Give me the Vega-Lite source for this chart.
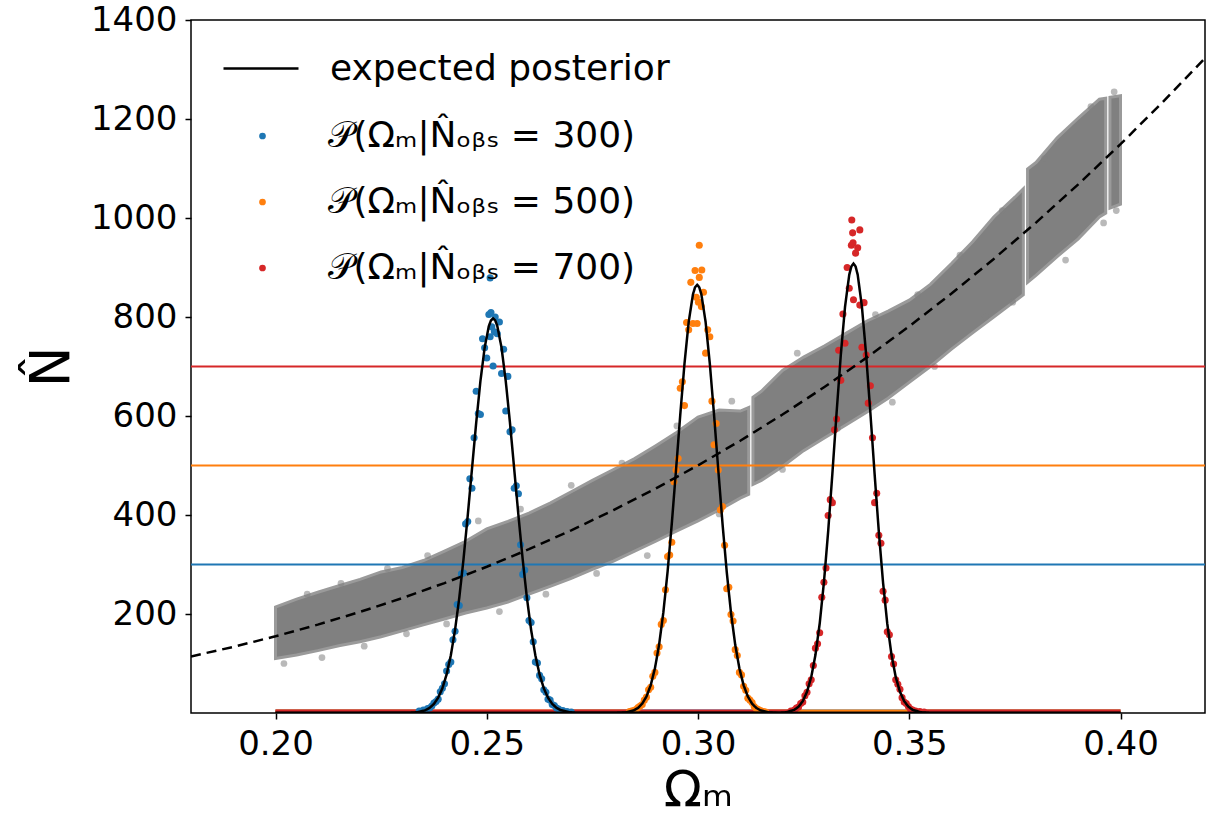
{
  "$schema": "https://vega.github.io/schema/vega-lite/v6.json",
  "width": 1014,
  "height": 693,
  "autosize": {"type": "none"},
  "padding": {"left": 191, "top": 20, "right": 1, "bottom": 110},
  "background": "white",
  "config": {
    "view": {"stroke": "black", "strokeWidth": 1.5},
    "font": "DejaVu Sans",
    "axis": {"grid": false, "domain": false, "tickColor": "black", "tickWidth": 1.5, "tickSize": 6, "labelColor": "black", "labelFont": "DejaVu Sans", "labelFontSize": 34, "titleFont": "DejaVu Sans", "titleFontWeight": "normal", "titleColor": "black"},
    "legend": {"labelFont": "DejaVu Sans", "labelFontSize": 36, "labelColor": "black", "labelLimit": 0, "title": null}
  },
  "datasets": {
    "band": [
      {"seg": "a", "x": 0.200, "N": 110, "N2": 214},
      {"seg": "a", "x": 0.205, "N": 117, "N2": 230},
      {"seg": "a", "x": 0.210, "N": 126, "N2": 244},
      {"seg": "a", "x": 0.215, "N": 136, "N2": 257},
      {"seg": "a", "x": 0.220, "N": 144, "N2": 270},
      {"seg": "a", "x": 0.225, "N": 154, "N2": 285},
      {"seg": "a", "x": 0.230, "N": 166, "N2": 294},
      {"seg": "a", "x": 0.235, "N": 178, "N2": 308},
      {"seg": "a", "x": 0.240, "N": 190, "N2": 327},
      {"seg": "a", "x": 0.245, "N": 202, "N2": 347},
      {"seg": "a", "x": 0.250, "N": 212, "N2": 372},
      {"seg": "a", "x": 0.255, "N": 224, "N2": 387},
      {"seg": "a", "x": 0.260, "N": 240, "N2": 404},
      {"seg": "a", "x": 0.265, "N": 256, "N2": 424},
      {"seg": "a", "x": 0.270, "N": 272, "N2": 447},
      {"seg": "a", "x": 0.275, "N": 290, "N2": 470},
      {"seg": "a", "x": 0.280, "N": 307, "N2": 492},
      {"seg": "a", "x": 0.285, "N": 327, "N2": 514},
      {"seg": "a", "x": 0.290, "N": 347, "N2": 540},
      {"seg": "a", "x": 0.295, "N": 368, "N2": 567},
      {"seg": "a", "x": 0.300, "N": 388, "N2": 598},
      {"seg": "a", "x": 0.305, "N": 410, "N2": 612},
      {"seg": "a", "x": 0.310, "N": 434, "N2": 610},
      {"seg": "a", "x": 0.312, "N": 442, "N2": 617},
      {"seg": "b", "x": 0.313, "N": 462, "N2": 638},
      {"seg": "b", "x": 0.315, "N": 470, "N2": 650},
      {"seg": "b", "x": 0.320, "N": 498, "N2": 692},
      {"seg": "b", "x": 0.325, "N": 530, "N2": 719},
      {"seg": "b", "x": 0.330, "N": 556, "N2": 742},
      {"seg": "b", "x": 0.335, "N": 582, "N2": 767},
      {"seg": "b", "x": 0.340, "N": 608, "N2": 792},
      {"seg": "b", "x": 0.345, "N": 636, "N2": 812},
      {"seg": "b", "x": 0.350, "N": 668, "N2": 834},
      {"seg": "b", "x": 0.355, "N": 700, "N2": 866},
      {"seg": "b", "x": 0.360, "N": 735, "N2": 908},
      {"seg": "b", "x": 0.365, "N": 768, "N2": 952},
      {"seg": "b", "x": 0.370, "N": 800, "N2": 1002},
      {"seg": "b", "x": 0.375, "N": 832, "N2": 1042},
      {"seg": "b", "x": 0.377, "N": 845, "N2": 1059},
      {"seg": "c", "x": 0.378, "N": 870, "N2": 1099},
      {"seg": "c", "x": 0.380, "N": 884, "N2": 1112},
      {"seg": "c", "x": 0.385, "N": 922, "N2": 1162},
      {"seg": "c", "x": 0.390, "N": 958, "N2": 1202},
      {"seg": "c", "x": 0.395, "N": 1002, "N2": 1240},
      {"seg": "c", "x": 0.3965, "N": 1010, "N2": 1242},
      {"seg": "d", "x": 0.3975, "N": 1020, "N2": 1244},
      {"seg": "d", "x": 0.400, "N": 1028, "N2": 1247}
    ],
    "outliers": [
      {"x": 0.2020, "N": 100}, {"x": 0.2075, "N": 240}, {"x": 0.2110, "N": 112}, {"x": 0.2155, "N": 262},
      {"x": 0.2210, "N": 135}, {"x": 0.2265, "N": 292}, {"x": 0.2310, "N": 160}, {"x": 0.2360, "N": 318},
      {"x": 0.2405, "N": 180}, {"x": 0.2480, "N": 388}, {"x": 0.2530, "N": 205}, {"x": 0.2580, "N": 412},
      {"x": 0.2640, "N": 240}, {"x": 0.2700, "N": 460}, {"x": 0.2760, "N": 282}, {"x": 0.2820, "N": 505},
      {"x": 0.2880, "N": 318}, {"x": 0.2950, "N": 580}, {"x": 0.3050, "N": 402}, {"x": 0.3080, "N": 630},
      {"x": 0.3200, "N": 492}, {"x": 0.3235, "N": 727}, {"x": 0.3330, "N": 575}, {"x": 0.3420, "N": 805},
      {"x": 0.3460, "N": 628}, {"x": 0.3520, "N": 845}, {"x": 0.3560, "N": 700}, {"x": 0.3620, "N": 925},
      {"x": 0.3680, "N": 800}, {"x": 0.3720, "N": 1015}, {"x": 0.3745, "N": 830}, {"x": 0.3820, "N": 1120},
      {"x": 0.3870, "N": 915}, {"x": 0.3930, "N": 1225}, {"x": 0.3960, "N": 990}, {"x": 0.3990, "N": 1015},
      {"x": 0.3985, "N": 1255}
    ],
    "hlines": [
      {"g": "h300", "x": 0.18, "N": 300}, {"g": "h300", "x": 0.42, "N": 300},
      {"g": "h500", "x": 0.18, "N": 500}, {"g": "h500", "x": 0.42, "N": 500},
      {"g": "h700", "x": 0.18, "N": 700}, {"g": "h700", "x": 0.42, "N": 700}
    ],
    "tails": [
      {"g": "h300", "seg": "l", "x": 0.200, "N": 0}, {"g": "h300", "seg": "l", "x": 0.236, "N": 0},
      {"g": "h300", "seg": "r", "x": 0.267, "N": 0}, {"g": "h300", "seg": "r", "x": 0.400, "N": 0},
      {"g": "h500", "seg": "l", "x": 0.200, "N": 0}, {"g": "h500", "seg": "l", "x": 0.2855, "N": 0},
      {"g": "h500", "seg": "r", "x": 0.3145, "N": 0}, {"g": "h500", "seg": "r", "x": 0.400, "N": 0},
      {"g": "h700", "seg": "l", "x": 0.200, "N": 0}, {"g": "h700", "seg": "l", "x": 0.3235, "N": 0},
      {"g": "h700", "seg": "r", "x": 0.3505, "N": 0}, {"g": "h700", "seg": "r", "x": 0.400, "N": 0}
    ],
    "samples": [
      {"s": "p300", "x": 0.2340, "N": 4}, {"s": "p300", "x": 0.2350, "N": 6}, {"s": "p300", "x": 0.2360, "N": 9}, {"s": "p300", "x": 0.2365, "N": 10},
      {"s": "p300", "x": 0.2370, "N": 14}, {"s": "p300", "x": 0.2375, "N": 20}, {"s": "p300", "x": 0.2380, "N": 23}, {"s": "p300", "x": 0.2385, "N": 28},
      {"s": "p300", "x": 0.2390, "N": 43}, {"s": "p300", "x": 0.2395, "N": 50}, {"s": "p300", "x": 0.2400, "N": 59}, {"s": "p300", "x": 0.2405, "N": 85},
      {"s": "p300", "x": 0.2410, "N": 98}, {"s": "p300", "x": 0.2415, "N": 103}, {"s": "p300", "x": 0.2420, "N": 148}, {"s": "p300", "x": 0.2425, "N": 165},
      {"s": "p300", "x": 0.2430, "N": 219}, {"s": "p300", "x": 0.2435, "N": 217}, {"s": "p300", "x": 0.2440, "N": 281}, {"s": "p300", "x": 0.2445, "N": 283},
      {"s": "p300", "x": 0.2450, "N": 382}, {"s": "p300", "x": 0.2455, "N": 387}, {"s": "p300", "x": 0.2460, "N": 473}, {"s": "p300", "x": 0.2465, "N": 454},
      {"s": "p300", "x": 0.2470, "N": 556}, {"s": "p300", "x": 0.2475, "N": 650}, {"s": "p300", "x": 0.2480, "N": 605}, {"s": "p300", "x": 0.2485, "N": 603},
      {"s": "p300", "x": 0.2490, "N": 756}, {"s": "p300", "x": 0.2495, "N": 738}, {"s": "p300", "x": 0.2500, "N": 717}, {"s": "p300", "x": 0.2505, "N": 805},
      {"s": "p300", "x": 0.2508, "N": 879}, {"s": "p300", "x": 0.2508, "N": 760}, {"s": "p300", "x": 0.2510, "N": 809}, {"s": "p300", "x": 0.2512, "N": 780},
      {"s": "p300", "x": 0.2515, "N": 701}, {"s": "p300", "x": 0.2518, "N": 770}, {"s": "p300", "x": 0.2520, "N": 800}, {"s": "p300", "x": 0.2525, "N": 766},
      {"s": "p300", "x": 0.2530, "N": 790}, {"s": "p300", "x": 0.2535, "N": 686}, {"s": "p300", "x": 0.2540, "N": 735}, {"s": "p300", "x": 0.2545, "N": 610},
      {"s": "p300", "x": 0.2550, "N": 680}, {"s": "p300", "x": 0.2555, "N": 568}, {"s": "p300", "x": 0.2560, "N": 572}, {"s": "p300", "x": 0.2565, "N": 454},
      {"s": "p300", "x": 0.2570, "N": 459}, {"s": "p300", "x": 0.2575, "N": 443}, {"s": "p300", "x": 0.2580, "N": 340}, {"s": "p300", "x": 0.2585, "N": 280},
      {"s": "p300", "x": 0.2590, "N": 289}, {"s": "p300", "x": 0.2595, "N": 233}, {"s": "p300", "x": 0.2600, "N": 187}, {"s": "p300", "x": 0.2605, "N": 183},
      {"s": "p300", "x": 0.2610, "N": 144}, {"s": "p300", "x": 0.2615, "N": 103}, {"s": "p300", "x": 0.2620, "N": 101}, {"s": "p300", "x": 0.2625, "N": 76},
      {"s": "p300", "x": 0.2630, "N": 69}, {"s": "p300", "x": 0.2635, "N": 47}, {"s": "p300", "x": 0.2640, "N": 42}, {"s": "p300", "x": 0.2645, "N": 28},
      {"s": "p300", "x": 0.2650, "N": 26}, {"s": "p300", "x": 0.2655, "N": 17}, {"s": "p300", "x": 0.2660, "N": 15}, {"s": "p300", "x": 0.2665, "N": 10},
      {"s": "p300", "x": 0.2670, "N": 8}, {"s": "p300", "x": 0.2680, "N": 5}, {"s": "p300", "x": 0.2690, "N": 3}, {"s": "p300", "x": 0.2700, "N": 2},
      {"s": "p500", "x": 0.2838, "N": 3}, {"s": "p500", "x": 0.2843, "N": 4}, {"s": "p500", "x": 0.2848, "N": 5}, {"s": "p500", "x": 0.2853, "N": 7},
      {"s": "p500", "x": 0.2858, "N": 11}, {"s": "p500", "x": 0.2863, "N": 14}, {"s": "p500", "x": 0.2868, "N": 17}, {"s": "p500", "x": 0.2873, "N": 26},
      {"s": "p500", "x": 0.2878, "N": 32}, {"s": "p500", "x": 0.2883, "N": 47}, {"s": "p500", "x": 0.2888, "N": 52}, {"s": "p500", "x": 0.2893, "N": 74},
      {"s": "p500", "x": 0.2898, "N": 82}, {"s": "p500", "x": 0.2903, "N": 121}, {"s": "p500", "x": 0.2908, "N": 134}, {"s": "p500", "x": 0.2913, "N": 179},
      {"s": "p500", "x": 0.2918, "N": 187}, {"s": "p500", "x": 0.2923, "N": 249}, {"s": "p500", "x": 0.2928, "N": 316}, {"s": "p500", "x": 0.2933, "N": 319},
      {"s": "p500", "x": 0.2938, "N": 345}, {"s": "p500", "x": 0.2943, "N": 467}, {"s": "p500", "x": 0.2948, "N": 491}, {"s": "p500", "x": 0.2953, "N": 514},
      {"s": "p500", "x": 0.2958, "N": 656}, {"s": "p500", "x": 0.2963, "N": 669}, {"s": "p500", "x": 0.2968, "N": 621}, {"s": "p500", "x": 0.2973, "N": 789},
      {"s": "p500", "x": 0.2978, "N": 774}, {"s": "p500", "x": 0.2983, "N": 870}, {"s": "p500", "x": 0.2988, "N": 787}, {"s": "p500", "x": 0.2993, "N": 894},
      {"s": "p500", "x": 0.2996, "N": 840}, {"s": "p500", "x": 0.2998, "N": 787}, {"s": "p500", "x": 0.3001, "N": 830}, {"s": "p500", "x": 0.3003, "N": 880},
      {"s": "p500", "x": 0.3003, "N": 945}, {"s": "p500", "x": 0.3008, "N": 821}, {"s": "p500", "x": 0.3009, "N": 895}, {"s": "p500", "x": 0.3013, "N": 850},
      {"s": "p500", "x": 0.3018, "N": 727}, {"s": "p500", "x": 0.3023, "N": 774}, {"s": "p500", "x": 0.3028, "N": 760}, {"s": "p500", "x": 0.3033, "N": 630},
      {"s": "p500", "x": 0.3038, "N": 542}, {"s": "p500", "x": 0.3043, "N": 585}, {"s": "p500", "x": 0.3048, "N": 491}, {"s": "p500", "x": 0.3053, "N": 410},
      {"s": "p500", "x": 0.3058, "N": 417}, {"s": "p500", "x": 0.3063, "N": 339}, {"s": "p500", "x": 0.3068, "N": 251}, {"s": "p500", "x": 0.3073, "N": 254},
      {"s": "p500", "x": 0.3078, "N": 199}, {"s": "p500", "x": 0.3083, "N": 186}, {"s": "p500", "x": 0.3088, "N": 128}, {"s": "p500", "x": 0.3093, "N": 116},
      {"s": "p500", "x": 0.3098, "N": 82}, {"s": "p500", "x": 0.3103, "N": 77}, {"s": "p500", "x": 0.3108, "N": 54}, {"s": "p500", "x": 0.3113, "N": 46},
      {"s": "p500", "x": 0.3118, "N": 30}, {"s": "p500", "x": 0.3123, "N": 26}, {"s": "p500", "x": 0.3128, "N": 21}, {"s": "p500", "x": 0.3133, "N": 13},
      {"s": "p500", "x": 0.3138, "N": 9}, {"s": "p500", "x": 0.3143, "N": 7}, {"s": "p500", "x": 0.3148, "N": 5}, {"s": "p500", "x": 0.3155, "N": 3},
      {"s": "p500", "x": 0.3160, "N": 2},
      {"s": "p700", "x": 0.3220, "N": 4}, {"s": "p700", "x": 0.3228, "N": 6}, {"s": "p700", "x": 0.3233, "N": 10}, {"s": "p700", "x": 0.3238, "N": 12},
      {"s": "p700", "x": 0.3243, "N": 19}, {"s": "p700", "x": 0.3248, "N": 22}, {"s": "p700", "x": 0.3253, "N": 35}, {"s": "p700", "x": 0.3258, "N": 42},
      {"s": "p700", "x": 0.3263, "N": 59}, {"s": "p700", "x": 0.3268, "N": 67}, {"s": "p700", "x": 0.3273, "N": 96}, {"s": "p700", "x": 0.3278, "N": 131},
      {"s": "p700", "x": 0.3283, "N": 140}, {"s": "p700", "x": 0.3288, "N": 162}, {"s": "p700", "x": 0.3293, "N": 234}, {"s": "p700", "x": 0.3298, "N": 264},
      {"s": "p700", "x": 0.3303, "N": 293}, {"s": "p700", "x": 0.3308, "N": 399}, {"s": "p700", "x": 0.3313, "N": 431}, {"s": "p700", "x": 0.3318, "N": 425},
      {"s": "p700", "x": 0.3323, "N": 572}, {"s": "p700", "x": 0.3328, "N": 594}, {"s": "p700", "x": 0.3333, "N": 733}, {"s": "p700", "x": 0.3338, "N": 672},
      {"s": "p700", "x": 0.3343, "N": 806}, {"s": "p700", "x": 0.3348, "N": 747}, {"s": "p700", "x": 0.3353, "N": 900}, {"s": "p700", "x": 0.3358, "N": 858},
      {"s": "p700", "x": 0.3363, "N": 945}, {"s": "p700", "x": 0.3364, "N": 996}, {"s": "p700", "x": 0.3366, "N": 970}, {"s": "p700", "x": 0.3367, "N": 950},
      {"s": "p700", "x": 0.3368, "N": 835}, {"s": "p700", "x": 0.3373, "N": 929}, {"s": "p700", "x": 0.3378, "N": 940}, {"s": "p700", "x": 0.3383, "N": 976},
      {"s": "p700", "x": 0.3383, "N": 824}, {"s": "p700", "x": 0.3388, "N": 739}, {"s": "p700", "x": 0.3393, "N": 829}, {"s": "p700", "x": 0.3398, "N": 723},
      {"s": "p700", "x": 0.3403, "N": 626}, {"s": "p700", "x": 0.3408, "N": 661}, {"s": "p700", "x": 0.3413, "N": 556}, {"s": "p700", "x": 0.3418, "N": 425},
      {"s": "p700", "x": 0.3423, "N": 444}, {"s": "p700", "x": 0.3428, "N": 359}, {"s": "p700", "x": 0.3433, "N": 343}, {"s": "p700", "x": 0.3438, "N": 246},
      {"s": "p700", "x": 0.3443, "N": 228}, {"s": "p700", "x": 0.3448, "N": 164}, {"s": "p700", "x": 0.3453, "N": 158}, {"s": "p700", "x": 0.3458, "N": 114},
      {"s": "p700", "x": 0.3463, "N": 99}, {"s": "p700", "x": 0.3468, "N": 67}, {"s": "p700", "x": 0.3473, "N": 58}, {"s": "p700", "x": 0.3478, "N": 48},
      {"s": "p700", "x": 0.3483, "N": 31}, {"s": "p700", "x": 0.3488, "N": 22}, {"s": "p700", "x": 0.3493, "N": 19}, {"s": "p700", "x": 0.3498, "N": 13},
      {"s": "p700", "x": 0.3503, "N": 8}, {"s": "p700", "x": 0.3508, "N": 6}, {"s": "p700", "x": 0.3515, "N": 4}, {"s": "p700", "x": 0.3525, "N": 3},
      {"s": "p700", "x": 0.3535, "N": 2}
    ],
    "curves": [
      {"c": "p300", "x": 0.2000, "N": 0}, {"c": "p300", "x": 0.2315, "N": 0.4}, {"c": "p300", "x": 0.2335, "N": 1.6}, {"c": "p300", "x": 0.2355, "N": 5.8},
      {"c": "p300", "x": 0.2365, "N": 10.5}, {"c": "p300", "x": 0.2375, "N": 18.4}, {"c": "p300", "x": 0.2385, "N": 30.9}, {"c": "p300", "x": 0.2395, "N": 50.0},
      {"c": "p300", "x": 0.2405, "N": 77.9}, {"c": "p300", "x": 0.2415, "N": 116.6}, {"c": "p300", "x": 0.2425, "N": 168.0}, {"c": "p300", "x": 0.2435, "N": 232.9},
      {"c": "p300", "x": 0.2445, "N": 310.7}, {"c": "p300", "x": 0.2455, "N": 399.0}, {"c": "p300", "x": 0.2465, "N": 492.9}, {"c": "p300", "x": 0.2475, "N": 586.0},
      {"c": "p300", "x": 0.2485, "N": 670.3}, {"c": "p300", "x": 0.2495, "N": 738.0}, {"c": "p300", "x": 0.2505, "N": 781.8}, {"c": "p300", "x": 0.2510, "N": 793.2},
      {"c": "p300", "x": 0.2515, "N": 797}, {"c": "p300", "x": 0.2520, "N": 793.2}, {"c": "p300", "x": 0.2525, "N": 781.8}, {"c": "p300", "x": 0.2535, "N": 738.0},
      {"c": "p300", "x": 0.2545, "N": 670.3}, {"c": "p300", "x": 0.2555, "N": 586.0}, {"c": "p300", "x": 0.2565, "N": 492.9}, {"c": "p300", "x": 0.2575, "N": 399.0},
      {"c": "p300", "x": 0.2585, "N": 310.7}, {"c": "p300", "x": 0.2595, "N": 232.9}, {"c": "p300", "x": 0.2605, "N": 168.0}, {"c": "p300", "x": 0.2615, "N": 116.6},
      {"c": "p300", "x": 0.2625, "N": 77.9}, {"c": "p300", "x": 0.2635, "N": 50.0}, {"c": "p300", "x": 0.2645, "N": 30.9}, {"c": "p300", "x": 0.2655, "N": 18.4},
      {"c": "p300", "x": 0.2665, "N": 10.5}, {"c": "p300", "x": 0.2675, "N": 5.8}, {"c": "p300", "x": 0.2695, "N": 1.6}, {"c": "p300", "x": 0.2715, "N": 0.4},
      {"c": "p300", "x": 0.4000, "N": 0},
      {"c": "p500", "x": 0.2000, "N": 0}, {"c": "p500", "x": 0.2808, "N": 0.2}, {"c": "p500", "x": 0.2828, "N": 1.2}, {"c": "p500", "x": 0.2848, "N": 5.3},
      {"c": "p500", "x": 0.2858, "N": 10.2}, {"c": "p500", "x": 0.2868, "N": 18.9}, {"c": "p500", "x": 0.2878, "N": 33.2}, {"c": "p500", "x": 0.2888, "N": 55.9},
      {"c": "p500", "x": 0.2898, "N": 90.0}, {"c": "p500", "x": 0.2908, "N": 138.3}, {"c": "p500", "x": 0.2918, "N": 203.2}, {"c": "p500", "x": 0.2928, "N": 285.3},
      {"c": "p500", "x": 0.2938, "N": 382.9}, {"c": "p500", "x": 0.2948, "N": 491.2}, {"c": "p500", "x": 0.2958, "N": 602.2}, {"c": "p500", "x": 0.2968, "N": 705.6},
      {"c": "p500", "x": 0.2978, "N": 790.1}, {"c": "p500", "x": 0.2988, "N": 845.6}, {"c": "p500", "x": 0.2993, "N": 860}, {"c": "p500", "x": 0.2998, "N": 865},
      {"c": "p500", "x": 0.3003, "N": 860}, {"c": "p500", "x": 0.3008, "N": 845.6}, {"c": "p500", "x": 0.3018, "N": 790.1}, {"c": "p500", "x": 0.3028, "N": 705.6},
      {"c": "p500", "x": 0.3038, "N": 602.2}, {"c": "p500", "x": 0.3048, "N": 491.2}, {"c": "p500", "x": 0.3058, "N": 382.9}, {"c": "p500", "x": 0.3068, "N": 285.3},
      {"c": "p500", "x": 0.3078, "N": 203.2}, {"c": "p500", "x": 0.3088, "N": 138.3}, {"c": "p500", "x": 0.3098, "N": 90.0}, {"c": "p500", "x": 0.3108, "N": 55.9},
      {"c": "p500", "x": 0.3118, "N": 33.2}, {"c": "p500", "x": 0.3128, "N": 18.9}, {"c": "p500", "x": 0.3138, "N": 10.2}, {"c": "p500", "x": 0.3148, "N": 5.3},
      {"c": "p500", "x": 0.3168, "N": 1.2}, {"c": "p500", "x": 0.3188, "N": 0.2}, {"c": "p500", "x": 0.4000, "N": 0},
      {"c": "p700", "x": 0.2000, "N": 0}, {"c": "p700", "x": 0.3188, "N": 0.25}, {"c": "p700", "x": 0.3208, "N": 1.4}, {"c": "p700", "x": 0.3228, "N": 6.4},
      {"c": "p700", "x": 0.3238, "N": 12.7}, {"c": "p700", "x": 0.3248, "N": 23.9}, {"c": "p700", "x": 0.3258, "N": 42.8}, {"c": "p700", "x": 0.3268, "N": 72.7},
      {"c": "p700", "x": 0.3278, "N": 117.5}, {"c": "p700", "x": 0.3288, "N": 180.4}, {"c": "p700", "x": 0.3298, "N": 263.5}, {"c": "p700", "x": 0.3308, "N": 365.8},
      {"c": "p700", "x": 0.3318, "N": 483.1}, {"c": "p700", "x": 0.3328, "N": 606.3}, {"c": "p700", "x": 0.3338, "N": 723.4}, {"c": "p700", "x": 0.3348, "N": 820.7},
      {"c": "p700", "x": 0.3358, "N": 885.4}, {"c": "p700", "x": 0.3363, "N": 902}, {"c": "p700", "x": 0.3368, "N": 908}, {"c": "p700", "x": 0.3373, "N": 902},
      {"c": "p700", "x": 0.3378, "N": 885.4}, {"c": "p700", "x": 0.3388, "N": 820.7}, {"c": "p700", "x": 0.3398, "N": 723.4}, {"c": "p700", "x": 0.3408, "N": 606.3},
      {"c": "p700", "x": 0.3418, "N": 483.1}, {"c": "p700", "x": 0.3428, "N": 365.8}, {"c": "p700", "x": 0.3438, "N": 263.5}, {"c": "p700", "x": 0.3448, "N": 180.4},
      {"c": "p700", "x": 0.3458, "N": 117.5}, {"c": "p700", "x": 0.3468, "N": 72.7}, {"c": "p700", "x": 0.3478, "N": 42.8}, {"c": "p700", "x": 0.3488, "N": 23.9},
      {"c": "p700", "x": 0.3498, "N": 12.7}, {"c": "p700", "x": 0.3508, "N": 6.4}, {"c": "p700", "x": 0.3528, "N": 1.4}, {"c": "p700", "x": 0.3548, "N": 0.25},
      {"c": "p700", "x": 0.4000, "N": 0}
    ],
    "mean": [
      {"x": 0.18, "N": 114.3}, {"x": 0.19, "N": 133.6}, {"x": 0.20, "N": 155.0}, {"x": 0.21, "N": 178.5},
      {"x": 0.22, "N": 204.2}, {"x": 0.23, "N": 232.1}, {"x": 0.24, "N": 262.5}, {"x": 0.25, "N": 295.4},
      {"x": 0.26, "N": 330.9}, {"x": 0.27, "N": 369.0}, {"x": 0.28, "N": 409.9}, {"x": 0.29, "N": 453.6},
      {"x": 0.30, "N": 500.3}, {"x": 0.31, "N": 550.0}, {"x": 0.32, "N": 602.9}, {"x": 0.33, "N": 659.0},
      {"x": 0.34, "N": 718.4}, {"x": 0.35, "N": 781.2}, {"x": 0.36, "N": 847.4}, {"x": 0.37, "N": 917.3},
      {"x": 0.38, "N": 990.7}, {"x": 0.39, "N": 1068.0}, {"x": 0.40, "N": 1149.1}, {"x": 0.41, "N": 1234.1},
      {"x": 0.42, "N": 1323.1}
    ]
  },
  "encoding": {
    "x": {"field": "x", "type": "quantitative", "scale": {"domain": [0.18, 0.42], "nice": false, "zero": false},
      "axis": {"values": [0.2, 0.25, 0.3, 0.35, 0.4], "format": ".2f", "labelPadding": 8, "title": "Ωₘ", "titleFontSize": 50, "titlePadding": 4}},
    "y": {"field": "N", "type": "quantitative", "scale": {"domain": [0, 1400], "nice": false},
      "axis": {"values": [200, 400, 600, 800, 1000, 1200, 1400], "format": "d", "labelPadding": 8, "title": "N̂", "titleFontSize": 55, "titlePadding": 10}}
  },
  "layer": [
    {
      "data": {"name": "band"},
      "mark": {"type": "area", "color": "#808080", "stroke": "#9a9a9a", "strokeWidth": 3, "clip": true},
      "encoding": {"y2": {"field": "N2"}, "detail": {"field": "seg"}}
    },
    {
      "data": {"name": "outliers"},
      "mark": {"type": "point", "filled": true, "color": "#808080", "opacity": 0.55, "size": 45, "clip": true}
    },
    {
      "data": {"name": "hlines"},
      "mark": {"type": "line", "strokeWidth": 2, "clip": true},
      "encoding": {"stroke": {"field": "g", "type": "nominal", "scale": {"domain": ["h300", "h500", "h700"], "range": ["#1f77b4", "#ff7f0e", "#d62728"]}, "legend": null}}
    },
    {
      "data": {"name": "tails"},
      "mark": {"type": "line", "strokeWidth": 7, "clip": true},
      "encoding": {"stroke": {"field": "g", "type": "nominal", "legend": null}, "detail": {"field": "seg"}}
    },
    {
      "data": {"name": "samples"},
      "mark": {"type": "point", "filled": true, "opacity": 1, "size": 50, "clip": true},
      "encoding": {
        "color": {"field": "s", "type": "nominal",
          "scale": {"domain": ["p300", "p500", "p700"], "range": ["#1f77b4", "#ff7f0e", "#d62728"]},
          "legend": {
            "orient": "none", "legendX": 53.5, "legendY": 98,
            "symbolType": "circle", "symbolSize": 45, "labelOffset": 47, "rowPadding": 30,
            "labelExpr": "datum.value == 'p300' ? '𝒫(Ωₘ|N̂ₒᵦₛ = 300)' : datum.value == 'p500' ? '𝒫(Ωₘ|N̂ₒᵦₛ = 500)' : '𝒫(Ωₘ|N̂ₒᵦₛ = 700)'"
          }
        }
      }
    },
    {
      "data": {"name": "curves"},
      "mark": {"type": "line", "color": "black", "strokeWidth": 2.5, "clip": true},
      "encoding": {
        "detail": {"field": "c"},
        "strokeDash": {"datum": "expected posterior", "type": "nominal",
          "scale": {"domain": ["expected posterior"], "range": [[1, 0]]},
          "legend": {
            "orient": "none", "legendX": 31, "legendY": 9.5,
            "symbolType": "stroke", "symbolSize": 5625, "symbolStrokeColor": "black", "symbolStrokeWidth": 2.5,
            "labelOffset": 30
          }
        }
      }
    },
    {
      "data": {"name": "mean"},
      "mark": {"type": "line", "color": "black", "strokeWidth": 2.5, "strokeDash": [10, 6], "clip": true}
    }
  ]
}
